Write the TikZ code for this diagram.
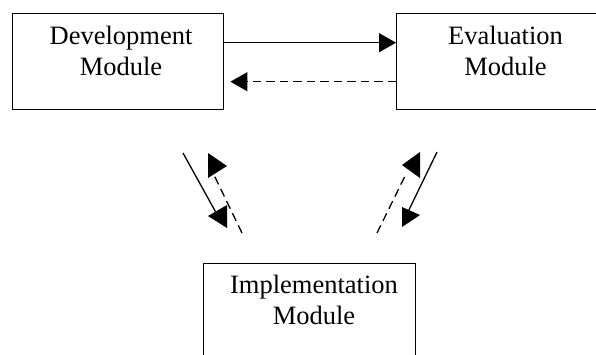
\documentclass[tikz,border=0pt]{standalone}
\usepackage{fontspec}
\setmainfont{Liberation Serif}
\usetikzlibrary{arrows.meta}
\begin{document}
\begin{tikzpicture}[x=1pt,y=-1pt,
  module/.style={draw, line width=1.4pt, rectangle, inner sep=0pt, anchor=north west},
  caption/.style={align=center, font=\fontsize{26.5}{30.7}\selectfont, inner sep=0pt, anchor=base},
  link/.style={line width=1.3pt},
  back/.style={line width=1.3pt, dash pattern=on 8.5pt off 5pt},
  head/.style={-{Triangle[length=17pt,width=19pt]}},
  tipmark/.style={fill=black}]
\useasboundingbox (0,0) rectangle (596,354);

% module boxes
\node[module, minimum width=211pt, minimum height=96pt] (dev) at (12,13) {};
\node[module, minimum width=212pt, minimum height=96pt] (eval) at (396,13) {};
\node[module, minimum width=212pt, minimum height=100pt] (impl) at (203,263) {};

% box titles (base anchor sits on the last line)
\node[caption] (devtext) at (121,75) {Development\\Module};
\node[caption] (evaltext) at (505.5,75) {Evaluation\\Module};
\node[caption] (impltext) at (314,324) {Implementation\\Module};

% development <-> evaluation
\draw[link, head] ([yshift=19pt]dev.east) -- ([yshift=19pt]eval.west);
\draw[back, head] ([yshift=-20pt]eval.west) -- ([xshift=6pt,yshift=-20pt]dev.east);

% development <-> implementation
\coordinate (ls1) at (183,153);
\coordinate (ls2) at (219,218);
\coordinate (ld1) at (242,233);
\coordinate (ld2) at (214,175);
\draw[link] (ls1) -- (ls2);
\draw[back] (ld1) -- (ld2);
\fill[tipmark] (208,216) -- (227,205) -- (227,228) -- cycle;
\fill[tipmark] (208,153) -- (227,166) -- (208,178) -- cycle;

% evaluation <-> implementation
\coordinate (rs1) at (437,152);
\coordinate (rs2) at (406,216);
\coordinate (rd1) at (377,233);
\coordinate (rd2) at (405,176);
\draw[link] (rs1) -- (rs2);
\draw[back] (rd1) -- (rd2);
\fill[tipmark] (402,207) -- (420,215) -- (402,227) -- cycle;
\fill[tipmark] (402,165) -- (420,152) -- (420,178) -- cycle;
\end{tikzpicture}
\end{document}
